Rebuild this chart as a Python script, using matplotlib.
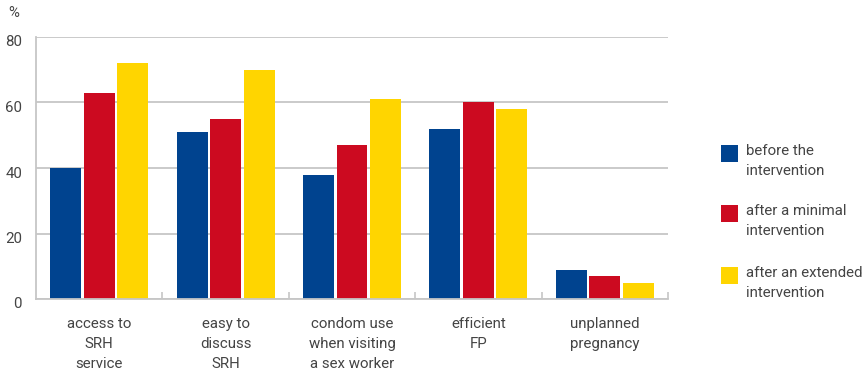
import numpy as np
import matplotlib.pyplot as plt
from matplotlib.patches import Rectangle
from matplotlib.transforms import ScaledTranslation

plt.rcParams['font.family'] = ['Roboto', 'DejaVu Sans']

categories = ["access to\nSRH\nservice", "easy to\ndiscuss\nSRH",
              "condom use\nwhen visiting\na sex worker", "efficient\nFP",
              "unplanned\npregnancy"]
before = [40, 51, 38, 52, 9]
minimal = [63, 55, 47, 60, 7]
extended = [72, 70, 61, 58, 5]
series_names = ["before the\nintervention", "after a minimal\nintervention",
                "after an extended\nintervention"]
colors = ["#00438f", "#cc0a20", "#ffd500"]
yticks = [0, 20, 40, 60, 80]

txt = "#444444"
grid = "#c6c6c6"
W, H = 868, 374
fs = 10.8

fig = plt.figure(figsize=(W / 100, H / 100), dpi=100)
ax = fig.add_axes([36 / W, 1 - 299 / H, (668 - 36) / W, (299 - 37) / H])

x = np.arange(len(categories))
step = 0.265
width = 0.245
for i, (vals, c) in enumerate(zip([before, minimal, extended], colors)):
    ax.bar(x + (i - 1) * step, vals, width, color=c, zorder=3, linewidth=0)

ax.set_xlim(-0.5, len(categories) - 0.5)
ax.set_ylim(0, 80)
ax.set_yticks(yticks)
ax.set_xticks(x)
ax.set_xticklabels(categories, linespacing=1.55)
ax.set_xticks(np.arange(0.5, len(categories) + 0.5), minor=True)
ax.tick_params(axis='x', which='major', length=0, pad=13, labelsize=fs, labelcolor=txt)
ax.tick_params(axis='x', which='minor', direction='in', length=5, width=1.2, color=grid)
ax.tick_params(axis='y', length=0, pad=10, labelsize=fs, labelcolor=txt)
for lab in ax.get_yticklabels():
    lab.set_transform(lab.get_transform() + ScaledTranslation(0, -4 / 100, fig.dpi_scale_trans))

ax.yaxis.grid(True, color=grid, linewidth=1.3, zorder=0)
ax.set_axisbelow(True)
for s in ['top', 'right']:
    ax.spines[s].set_visible(False)
for s in ['left', 'bottom']:
    ax.spines[s].set_color(grid)
    ax.spines[s].set_linewidth(1.3)
ax.spines['bottom'].set_zorder(4)

fig.text(8 / W, 1 - 13 / H, "%", fontsize=fs, color=txt, va='center', ha='left')

# legend drawn by hand so each square sits beside the first text line
for (top, name, c) in zip([145, 205, 267], series_names, colors):
    fig.add_artist(Rectangle((721 / W, 1 - (top + 17) / H), 17 / W, 17 / H,
                             transform=fig.transFigure, color=c, lw=0))
    fig.text(746 / W, 1 - (top - 1) / H, name, fontsize=fs, color=txt,
             va='top', ha='left', linespacing=1.55)

fig.savefig("out.png", dpi=100)
